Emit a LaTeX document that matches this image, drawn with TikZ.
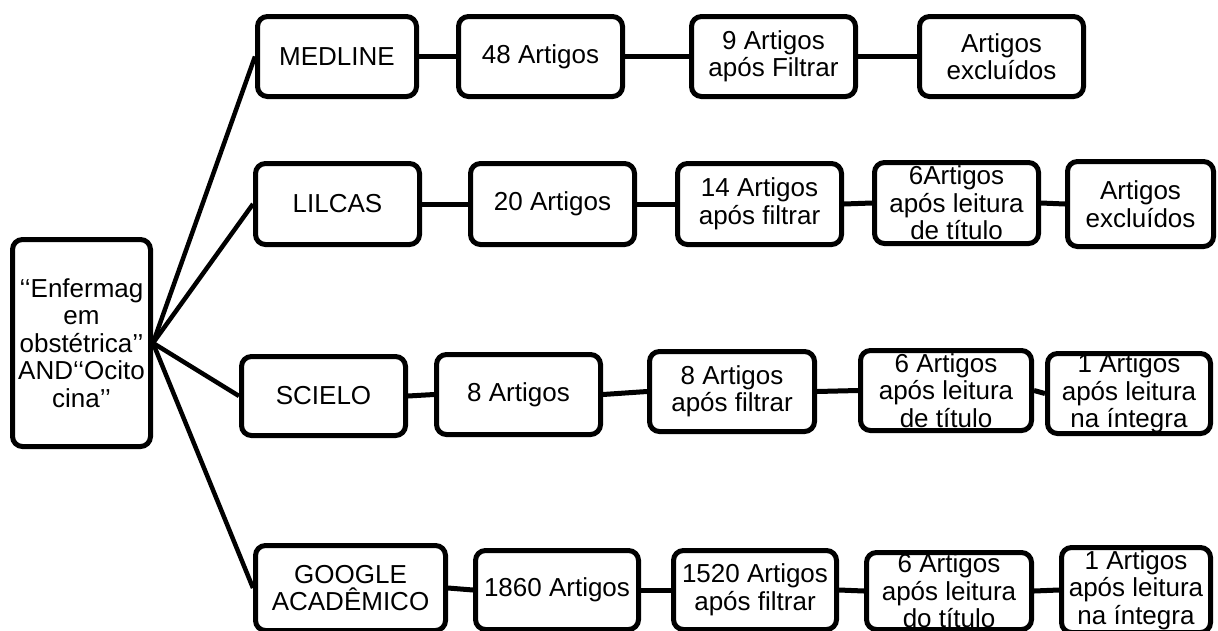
\documentclass[tikz,border=0pt]{standalone}
\usepackage{fontspec}
\setmainfont{Liberation Sans}
\begin{document}
\begin{tikzpicture}[x=1pt,y=-1pt,
  box/.style={draw, line width=5pt, rounded corners=10pt, inner sep=0pt,
    align=center, font=\fontsize{26}{27.5}\selectfont},
  wh/.style 2 args={minimum width=#1pt, minimum height=#2pt},
  link/.style={line width=5pt},
  branch/.style={line width=4.5pt}]
\useasboundingbox (0,0) rectangle (1218,630);
% root
\node[box, wh={138}{207}] (root) at (81.5,343) {‘‘Enfermag\\em\\obstétrica’’\\AND‘‘Ocito\\cina’’};
% row 1
\node[box, wh={159}{80}] (m1) at (337,56.5) {MEDLINE};
\node[box, wh={164}{80}] (m2) at (540.5,56.5) {48 Artigos};
\node[box, wh={164}{80}] (m3) at (773.5,56.5) {9 Artigos\\após Filtrar};
\node[box, wh={164}{80}] (m4) at (1001.5,56.5) {Artigos\\excluídos};
% row 2
\node[box, wh={164}{81}] (l1) at (337.5,204) {LILCAS};
\node[box, wh={164}{81}] (l2) at (552.5,204) {20 Artigos};
\node[box, wh={164}{81}] (l3) at (759.5,204) {14 Artigos\\após filtrar};
\node[box, wh={164}{81}] (l4) at (956.5,203) {6Artigos\\após leitura\\de título};
\node[box, wh={146}{85}] (l5) at (1140.5,204) {Artigos\\excluídos};
% row 3
\node[box, wh={164}{79}] (s1) at (323.5,396) {SCIELO};
\node[box, wh={164}{80}] (s2) at (518.5,394.5) {8 Artigos};
\node[box, wh={165}{80}] (s3) at (732,391.5) {8 Artigos\\após filtrar};
\node[box, wh={171}{80}] (s4) at (946,390.5) {6 Artigos\\após leitura\\de título};
\node[box, wh={163}{80}] (s5) at (1129,393.5) {1 Artigos\\após leitura\\na íntegra};
% row 4
\node[box, wh={190}{85}] (g1) at (350.5,588) {GOOGLE\\ACADÊMICO};
\node[box, wh={163}{79}] (g2) at (557,590) {1860 Artigos};
\node[box, wh={163}{79}] (g3) at (755,590) {1520 Artigos\\após filtrar};
\node[box, wh={165}{77}] (g4) at (949,591) {6 Artigos\\após leitura\\do título};
\node[box, wh={149}{85}] (g5) at (1136,590) {1 Artigos\\após leitura\\na íntegra};
% branches
\draw[branch] (root.east) -- (m1.west);
\draw[branch] (root.east) -- (l1.west);
\draw[branch] (root.east) -- (s1.west);
\draw[branch] (root.east) -- (g1.west);
% chains
\draw[link] (m1.east) -- (m2.west);
\draw[link] (m2.east) -- (m3.west);
\draw[link] (m3.east) -- (m4.west);
\draw[link] (l1.east) -- (l2.west);
\draw[link] (l2.east) -- (l3.west);
\draw[link] (l3.east) -- (l4.west);
\draw[link] (l4.east) -- (l5.west);
\draw[link] (s1.east) -- (s2.west);
\draw[link] (s2.east) -- (s3.west);
\draw[link] (s3.east) -- (s4.west);
\draw[link] (s4.east) -- (s5.west);
\draw[link] (g1.east) -- (g2.west);
\draw[link] (g2.east) -- (g3.west);
\draw[link] (g3.east) -- (g4.west);
\draw[link] (g4.east) -- (g5.west);
\end{tikzpicture}
\end{document}
